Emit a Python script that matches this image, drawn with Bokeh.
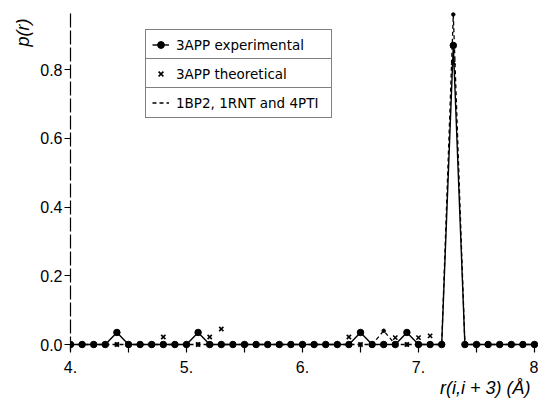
from bokeh.plotting import figure
from bokeh.models import (Range1d, FixedTicker, Legend, LegendItem, Title,
                          ColumnDataSource)
from bokeh.embed import file_html
from bokeh.resources import INLINE

# ---- data -------------------------------------------------------------
r = [4.0, 4.1, 4.2, 4.3, 4.4, 4.5, 4.6, 4.7, 4.8, 4.9,
     5.0, 5.1, 5.2, 5.3, 5.4, 5.5, 5.6, 5.7, 5.8, 5.9,
     6.0, 6.1, 6.2, 6.3, 6.4, 6.5, 6.6, 6.7, 6.8, 6.9,
     7.0, 7.1, 7.2, 7.3, 7.4, 7.5, 7.6, 7.7, 7.8, 7.9, 8.0]

exp_3app = [0, 0, 0, 0, 0.035, 0, 0, 0, 0, 0,
            0, 0.035, 0, 0, 0, 0, 0, 0, 0, 0,
            0, 0, 0, 0, 0, 0.035, 0, 0, 0, 0.035,
            0, 0, 0, 0.87, 0, 0, 0, 0, 0, 0, 0]

theo_3app = [0, 0, 0, 0, 0, 0, 0, 0, 0.022, 0,
             0, 0, 0.022, 0.045, 0, 0, 0, 0, 0, 0,
             0, 0, 0, 0, 0.022, 0, 0, 0, 0.02, 0,
             0.02, 0.025, 0, 0.82, 0, 0, 0, 0, 0, 0, 0]

other = [0, 0, 0, 0, 0, 0, 0, 0, 0, 0,
         0, 0, 0, 0, 0, 0, 0, 0, 0, 0,
         0, 0, 0, 0, 0, 0, 0, 0.04, 0, 0,
         0, 0, 0, 0.96, 0, 0, 0, 0, 0, 0, 0]

x_ticks = [4.0, 4.5, 5.0, 5.5, 6.0, 6.5, 7.0, 7.5, 8.0]
x_tick_labels = {4.0: "4.", 4.5: "", 5.0: "5.", 5.5: "", 6.0: "6.",
                 6.5: "", 7.0: "7.", 7.5: "", 8.0: "8"}
y_ticks = [0.0, 0.2, 0.4, 0.6, 0.8]
y_tick_labels = {0.0: "0.0", 0.2: "0.2", 0.4: "0.4", 0.6: "0.6", 0.8: "0.8"}

legend_labels = ["3APP experimental", "3APP theoretical", "1BP2, 1RNT and 4PTI"]
x_title = "r(i,i + 3) (Å)"
y_title = "p(r)"

# ---- figure -----------------------------------------------------------
p = figure(width=538, height=398, output_backend="svg", toolbar_location=None,
           x_range=Range1d(4.0, 8.0345), y_range=Range1d(-0.01745, 0.97164),
           min_border_left=70, min_border_right=0, min_border_top=10,
           min_border_bottom=48)
p.grid.visible = False
p.outline_line_color = None
p.background_fill_color = "white"
p.border_fill_color = "white"

src = ColumnDataSource(dict(r=r, e=exp_3app, t=theo_3app, o=other))

th = p.scatter("r", "t", source=src, marker="x", size=6, line_width=1.6,
               line_color="black")
ol = p.line("r", "o", source=src, line_color="black", line_width=1.3,
            line_dash="4 3")
od = p.scatter("r", "o", source=src, marker="circle", size=3.5,
               fill_color="black", line_color="black")
el = p.line("r", "e", source=src, line_color="black", line_width=1.4)
ed = p.scatter("r", "e", source=src, marker="circle", size=6.5,
               fill_color="black", line_color="black")

# ---- axes -------------------------------------------------------------
xa = p.xaxis[0]
xa.ticker = FixedTicker(ticks=x_ticks)
xa.major_label_overrides = x_tick_labels
xa.axis_line_color = None
xa.major_tick_in = 6
xa.major_tick_out = 2
xa.major_tick_line_width = 1.2
xa.minor_tick_line_color = None
xa.major_label_standoff = 8
xa.major_label_text_font = "Liberation Sans"
xa.major_label_text_font_size = "16px"
xa.major_label_text_color = "black"

ya = p.yaxis[0]
ya.ticker = FixedTicker(ticks=y_ticks)
ya.major_label_overrides = y_tick_labels
ya.axis_line_color = "black"
ya.axis_line_width = 1.2
ya.axis_line_dash = "14 3"
ya.major_tick_in = 0
ya.major_tick_out = 6
ya.major_tick_line_width = 1.2
ya.minor_tick_line_color = None
ya.major_label_standoff = 2
ya.major_label_text_font = "Liberation Sans"
ya.major_label_text_font_size = "16px"
ya.major_label_text_color = "black"

# ---- axis titles (as panel titles so they are not clipped) -----------
p.add_layout(Title(text=x_title, align="right", offset=8, standoff=0,
                   text_font="Liberation Sans", text_font_style="italic",
                   text_font_size="18px", text_color="black"), "below")
p.add_layout(Title(text=y_title, align="right", offset=8, standoff=10,
                   text_font="Liberation Sans", text_font_style="italic",
                   text_font_size="18px", text_color="black"), "left")

# ---- legend (three stacked boxes) ------------------------------------
items = [[el, ed], [th], [ol]]
bottoms = [290, 261, 232]
for lab, rends, vy in zip(legend_labels, items, bottoms):
    lg = Legend(items=[LegendItem(label=lab, renderers=rends)],
                location=(75, vy), padding=6, spacing=0, margin=0,
                glyph_width=17, glyph_height=17, label_height=17,
                label_width=149, label_standoff=7,
                label_text_font="DejaVu Sans", label_text_font_size="13.5px",
                label_text_color="black",
                border_line_color="black", border_line_width=1.2,
                background_fill_color="white", background_fill_alpha=1.0)
    p.add_layout(lg)

open("out.html", "w").write(file_html(p, INLINE))
